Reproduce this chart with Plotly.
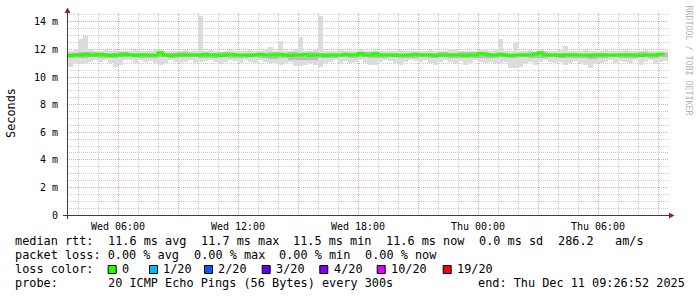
import plotly.graph_objects as go

# ---------------- data (hours since Wed 2025-12-10 00:00, values in ms) ----------------
step_h = 0.25
times = [3.5 + step_h * i for i in range(120)]

smoke_max = [11.9, 12.0, 12.75, 13.0, 12.0, 11.9, 11.9, 11.95, 11.9, 11.95,
             11.9, 11.85, 11.9, 11.95, 11.85, 11.9, 11.9, 12.0, 11.95, 11.9,
             11.9, 11.85, 11.9, 11.95, 11.9, 11.85, 14.45, 11.9, 11.95, 11.9,
             11.8, 11.9, 11.95, 11.85, 11.9, 11.9, 11.95, 11.85, 11.9, 11.95,
             12.15, 11.9, 12.6, 11.9, 11.85, 12.0, 12.9, 11.9, 11.85, 11.95,
             14.45, 11.9, 11.85, 11.9, 11.95, 11.9, 11.85, 11.9, 12.0, 11.9,
             11.9, 11.95, 11.9, 11.85, 11.9, 11.9, 11.95, 11.85, 11.9, 11.9,
             11.85, 11.9, 11.95, 11.9, 11.85, 11.9, 11.95, 12.05, 11.9, 11.9,
             11.85, 11.9, 11.95, 12.05, 11.9, 12.0, 12.75, 11.9, 11.85, 12.5,
             11.9, 11.9, 11.95, 11.9, 12.0, 11.9, 11.85, 11.9, 11.95, 12.25,
             11.9, 11.85, 11.9, 11.95, 11.9, 11.85, 11.9, 11.95, 11.9, 11.85,
             11.9, 11.95, 11.9, 11.85, 11.9, 11.95, 11.9, 11.85, 11.9, 11.85]

smoke_min = [10.75, 11.0, 10.95, 11.0, 11.1, 11.2, 11.1, 11.2, 11.0, 10.7,
             10.85, 11.2, 11.2, 11.05, 11.2, 11.1, 11.15, 11.0, 10.9, 11.0,
             11.2, 11.1, 11.0, 11.1, 11.2, 11.0, 11.1, 11.15, 11.2, 11.1,
             10.95, 11.1, 11.2, 11.15, 11.0, 11.2, 11.1, 11.0, 11.2, 11.1,
             11.0, 11.05, 10.9, 11.0, 11.1, 10.8, 10.8, 10.9, 11.0, 10.85,
             10.7, 11.0, 11.1, 11.2, 11.05, 11.15, 11.0, 11.1, 11.2, 11.0,
             10.85, 10.9, 11.1, 11.2, 11.15, 11.0, 10.9, 11.1, 11.2, 11.15,
             11.1, 11.2, 11.0, 10.85, 11.1, 11.2, 11.1, 11.0, 11.15, 10.9,
             11.0, 11.2, 11.1, 11.0, 11.1, 11.05, 11.0, 11.1, 10.65, 10.65,
             10.7, 11.0, 11.1, 10.9, 11.1, 11.2, 11.1, 11.0, 11.1, 10.9,
             11.0, 11.15, 11.0, 10.85, 10.65, 10.95, 11.0, 11.1, 11.2, 11.0,
             11.15, 11.1, 11.0, 11.2, 10.9, 11.1, 11.2, 10.95, 11.1, 11.15]

median = [11.55, 11.6, 11.6, 11.65, 11.6, 11.6, 11.65, 11.6, 11.55, 11.6,
          11.6, 11.65, 11.6, 11.55, 11.6, 11.6, 11.6, 11.6, 11.75, 11.6,
          11.55, 11.6, 11.6, 11.6, 11.6, 11.6, 11.6, 11.65, 11.6, 11.6,
          11.55, 11.6, 11.65, 11.6, 11.6, 11.6, 11.55, 11.6, 11.65, 11.6,
          11.6, 11.6, 11.65, 11.6, 11.55, 11.6, 11.6, 11.65, 11.55, 11.6,
          11.6, 11.55, 11.6, 11.6, 11.6, 11.65, 11.6, 11.6, 11.7, 11.6,
          11.6, 11.7, 11.6, 11.6, 11.6, 11.55, 11.6, 11.6, 11.6, 11.65,
          11.6, 11.6, 11.6, 11.55, 11.6, 11.6, 11.6, 11.6, 11.6, 11.55,
          11.6, 11.6, 11.7, 11.65, 11.6, 11.6, 11.65, 11.6, 11.55, 11.6,
          11.6, 11.6, 11.6, 11.65, 11.75, 11.6, 11.6, 11.6, 11.55, 11.6,
          11.6, 11.6, 11.6, 11.6, 11.55, 11.6, 11.6, 11.6, 11.6, 11.6,
          11.6, 11.6, 11.6, 11.6, 11.55, 11.6, 11.6, 11.6, 11.65, 11.6]

mid_step_h = 0.5
mid_times = [3.5 + mid_step_h * j for j in range(60)]
mid_hi = [11.75, 11.8, 11.8, 11.75, 11.75, 11.8, 11.75, 11.75, 11.7, 11.75,
          11.75, 11.8, 11.75, 11.75, 11.75, 11.8, 11.75, 11.7, 11.75, 11.75,
          11.8, 11.75, 11.8, 11.75, 11.8, 11.75, 11.75, 11.7, 11.75, 11.8,
          11.8, 11.75, 11.75, 11.7, 11.75, 11.75, 11.75, 11.8, 11.75, 11.8,
          11.8, 11.8, 11.75, 11.75, 11.7, 11.75, 11.8, 11.8, 11.75, 11.75,
          11.75, 11.7, 11.75, 11.75, 11.7, 11.75, 11.75, 11.8, 11.75, 11.75]
mid_lo = [11.35, 11.4, 11.45, 11.4, 11.35, 11.45, 11.5, 11.4, 11.35, 11.45,
          11.4, 11.45, 11.45, 11.4, 11.35, 11.45, 11.4, 11.35, 11.45, 11.4,
          11.3, 11.35, 11.2, 11.25, 11.2, 11.35, 11.4, 11.45, 11.4, 11.45,
          11.35, 11.4, 11.45, 11.4, 11.35, 11.45, 11.4, 11.45, 11.4, 11.35,
          11.4, 11.35, 11.35, 11.45, 11.4, 11.45, 11.35, 11.4, 11.45, 11.35,
          11.4, 11.35, 11.3, 11.4, 11.45, 11.4, 11.35, 11.45, 11.4, 11.45]

x_tick_vals = [6, 9, 12, 15, 18, 21, 24, 27, 30, 33]
x_tick_text = ["Wed 06:00", "", "Wed 12:00", "", "Wed 18:00", "",
               "Thu 00:00", "", "Thu 06:00", ""]
y_tick_vals = [0, 2, 4, 6, 8, 10, 12, 14]
y_tick_text = ["0", "2 m", "4 m", "6 m", "8 m", "10 m", "12 m", "14 m"]

loss_labels = ["0", "1/20", "2/20", "3/20", "4/20", "10/20", "19/20"]
loss_colors = ["#26ff00", "#00b8ff", "#0059ff", "#5e00ff", "#7e00ff", "#dd00ff", "#ff0000"]

legend_line1 = "median rtt:  11.6 ms avg  11.7 ms max  11.5 ms min  11.6 ms now  0.0 ms sd  286.2   am/s"
legend_line2 = "packet loss: 0.00 % avg  0.00 % max  0.00 % min  0.00 % now"
legend_line3 = "loss color:"
legend_line4 = "probe:       20 ICMP Echo Pings (56 Bytes) every 300s"
end_text = "end: Thu Dec 11 09:26:52 2025"

# ---------------- layout geometry (pixels) ----------------
W, H = 697, 297
L, R, T, B = 67, 669, 13, 215
X_RANGE = [3.45, 33.55]
Y_RANGE = [0, (B - T) / 13.8]
MONO = "DejaVu Sans Mono"
CW = 7.14      # char advance in legend
X0 = 15.0      # legend text origin

def px(x):
    return (x - L) / (R - L)

def py(y):
    return (B - y) / (B - T)

MAJ = "#e2a9a9"
MIN = "#cdcdcd"

fig = go.Figure()

fig.add_trace(go.Bar(
    x=times, base=smoke_min, y=[a - b for a, b in zip(smoke_max, smoke_min)],
    width=step_h, offset=0, marker=dict(color="#dcdcdc", line=dict(width=0)),
    hoverinfo="skip"))
fig.add_trace(go.Bar(
    x=mid_times, base=mid_lo, y=[a - b for a, b in zip(mid_hi, mid_lo)],
    width=mid_step_h, offset=0, marker=dict(color="#bdbdbd", line=dict(width=0)),
    hoverinfo="skip"))
fig.add_trace(go.Scatter(
    x=times, y=median, mode="lines", line=dict(color="#26ff00", width=3, shape="hv"),
    hoverinfo="skip"))

fig.update_layout(
    width=W, height=H,
    margin=dict(l=L, r=W - R, t=T, b=H - B, pad=0),
    paper_bgcolor="white", plot_bgcolor="white",
    showlegend=False, barmode="overlay", bargap=0,
    font=dict(family=MONO, color="#000000"),
)

fig.update_xaxes(
    range=X_RANGE, showline=False, zeroline=False,
    tickmode="array", tickvals=x_tick_vals, ticktext=x_tick_text,
    tickfont=dict(family=MONO, size=10, color="#000000"),
    ticks="outside", ticklen=2, tickcolor="rgba(0,0,0,0)",
    showgrid=True, gridcolor=MAJ, griddash="1px,1px", gridwidth=1,
    minor=dict(tickmode="linear", tick0=0, dtick=1, showgrid=True,
               gridcolor=MIN, griddash="1px,1px", gridwidth=1, ticks=""),
    layer="below traces",
)
fig.update_yaxes(
    range=Y_RANGE, showline=False, zeroline=False,
    tickmode="array", tickvals=y_tick_vals, ticktext=y_tick_text,
    tickfont=dict(family=MONO, size=10, color="#000000"),
    ticks="outside", ticklen=4, tickcolor="rgba(0,0,0,0)",
    ticklabelstandoff=2,
    showgrid=True, gridcolor=MAJ, griddash="1px,1px", gridwidth=1,
    minor=dict(tickmode="linear", tick0=0, dtick=0.5, showgrid=True,
               gridcolor=MIN, griddash="1px,1px", gridwidth=1, ticks=""),
    layer="below traces",
)

shapes = []
AX = "#3c3c3c"
ARW = "#9b1f1f"
# axes
shapes.append(dict(type="line", xref="paper", yref="paper",
                   x0=px(67.5), x1=px(67.5), y0=py(219), y1=py(10),
                   line=dict(color=AX, width=1)))
shapes.append(dict(type="line", xref="paper", yref="paper",
                   x0=px(63), x1=px(671), y0=py(215.5), y1=py(215.5),
                   line=dict(color=AX, width=1)))
# arrows
shapes.append(dict(type="path", xref="paper", yref="paper",
                   path=f"M {px(64.5)} {py(13)} L {px(70.5)} {py(13)} L {px(67.5)} {py(7.5)} Z",
                   fillcolor=ARW, line=dict(width=0)))
shapes.append(dict(type="path", xref="paper", yref="paper",
                   path=f"M {px(669)} {py(212.5)} L {px(669)} {py(218.5)} L {px(674.5)} {py(215.5)} Z",
                   fillcolor=ARW, line=dict(width=0)))

annotations = []

def text_at(x, y, s, size=11.85, anchor="left", color="#000000", angle=0):
    annotations.append(dict(
        xref="paper", yref="paper", x=px(x), y=py(y), text=s.replace(" ", "\u00a0"),
        showarrow=False, xanchor=anchor, yanchor="middle", textangle=angle,
        font=dict(family=MONO, size=size, color=color), borderpad=0, borderwidth=0))

def put_line(s, y):
    i = 0
    n = len(s)
    while i < n:
        if s[i] == " ":
            i += 1
            continue
        j = i
        while j < n and not (s[j] == " " and (j + 1 >= n or s[j + 1] == " ")):
            j += 1
        text_at(X0 + i * CW, y, s[i:j].rstrip())
        i = j

LINE_Y = [241.0, 255.0, 269.0, 283.0]
put_line(legend_line1, LINE_Y[0])
put_line(legend_line2, LINE_Y[1])
put_line(legend_line3, LINE_Y[2])
put_line(legend_line4, LINE_Y[3])
text_at(477.5, LINE_Y[3], end_text)

sq_x = [107.7, 149.0, 204.0, 261.7, 319.3, 376.7, 442.7]
for sx, lab, col in zip(sq_x, loss_labels, loss_colors):
    shapes.append(dict(type="rect", xref="paper", yref="paper",
                       x0=px(sx + 0.5), x1=px(sx + 8.5), y0=py(273.5), y1=py(265.5),
                       fillcolor=col, line=dict(color="#000000", width=1)))
    text_at(sx + 14.3, LINE_Y[2], lab)

# axis title and watermark
text_at(11, 113, "Seconds", size=11.85, anchor="center", angle=-90)
text_at(688.5, 60, "RRDTOOL / TOBI OETIKER", size=8.3, anchor="center",
        color="#b4b4b4", angle=90)

fig.update_layout(shapes=shapes, annotations=annotations)

fig.write_html("out.html", config={"displayModeBar": False, "staticPlot": True})
